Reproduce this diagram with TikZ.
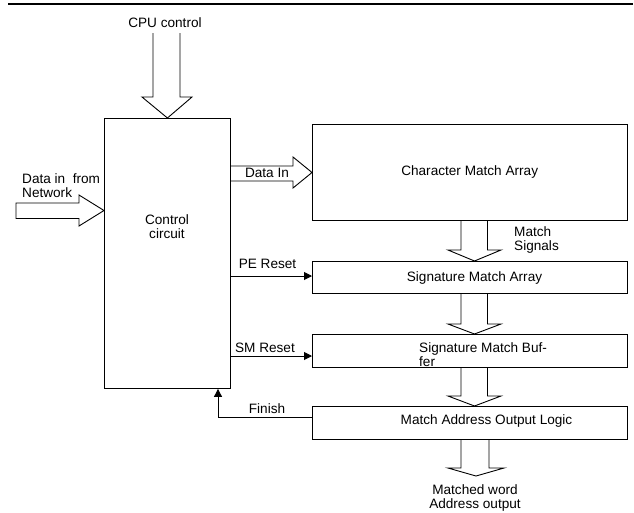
\documentclass[tikz,border=0pt]{standalone}
\usepackage{fontspec}
\setmainfont{Liberation Sans}
\usetikzlibrary{arrows.meta,calc}
\begin{document}
\begin{tikzpicture}[x=1pt,y=-1pt,
  box/.style={draw,line width=0.9pt,inner sep=0pt,anchor=north west},
  blk/.style={draw,line width=0.9pt,line join=miter},
  sig/.style={line width=0.9pt,-{Triangle[length=8pt,width=8pt]}},
  lbl/.style={inner sep=0pt,font=\fontsize{13.6}{14}\selectfont},
  every node/.style={font=\fontsize{13.6}{14}\selectfont}]
\useasboundingbox (0,0) rectangle (634,512);
\draw[line width=2pt] (8,4) -- (633,4);
% boxes
\node[box,minimum width=126pt,minimum height=270pt] (ctrl) at (104,118) {};
\node[box,minimum width=315pt,minimum height=96pt] (cma) at (312,124) {};
\node[box,minimum width=315pt,minimum height=32pt] (sma) at (312,261) {};
\node[box,minimum width=315pt,minimum height=33pt] (smb) at (312,334) {};
\node[box,minimum width=315pt,minimum height=33pt] (maol) at (312,406) {};
% box texts
\node[lbl,anchor=base] (t1) at (167,224) {Control};
\node[lbl,anchor=base] (t2) at (167,238) {circuit};
\node[lbl,anchor=base] (t3) at (469.7,175.6) {Character Match Array};
\node[lbl,anchor=base] (t4) at (474.5,281) {Signature Match Array};
\node[lbl,anchor=base west] (t5) at (419,352.5) {Signature Match Buf-};
\node[lbl,anchor=base west] (t6) at (419,366.5) {fer};
\node[lbl,anchor=base] (t7) at (486.5,424) {Match Address Output Logic};
% CPU control
\node[lbl,anchor=base] (cpu) at (165,27.5) {CPU control};
\draw[blk] (153,33) -- (153,97) -- (142,97) -- (ctrl.north) -- (192,97) -- (180,97) -- (180,33);
% Data in from network
\node[lbl,anchor=base west] (din1) at (22,183) {Data in\ \ from};
\node[lbl,anchor=base west] (din2) at (22,197) {Network};
\draw[blk] (16,203) -- (79,203) -- (79,195) -- (ctrl.west |- 0,210.5) -- (79,226) -- (79,218.5) -- (16,218.5) -- cycle;
% Data In
\draw[blk] (ctrl.east |- 0,166) -- (293,166) -- (293,157) -- (cma.west |- 0,172.5) -- (293,188) -- (293,181) -- (ctrl.east |- 0,181);
\node[lbl,anchor=base] (dinl) at (267,177) {Data In};
% vertical block arrows
\draw[blk] (461,220) -- (461,250) -- (448,250) -- (474.5,261) -- (501,250) -- (487.5,250) -- (487.5,220);
\node[lbl,anchor=base west] (ms1) at (514,236.5) {Match};
\node[lbl,anchor=base west] (ms2) at (514,250.5) {Signals};
\draw[blk] (461,293) -- (461,324) -- (448,324) -- (474.5,334) -- (501,324) -- (487.5,324) -- (487.5,293);
\draw[blk] (461,367) -- (461,396) -- (448,396) -- (474.5,406) -- (501,396) -- (487.5,396) -- (487.5,367);
\draw[blk] (461,439) -- (461,468) -- (448,468) -- (476,476) -- (504,468) -- (489,468) -- (489,439);
\node[lbl,anchor=base] (o1) at (475,494) {Matched word};
\node[lbl,anchor=base] (o2) at (475,508) {Address output};
% control signals
\coordinate (pe) at (sma.west |- 0,276);
\draw[sig] (ctrl.east |- pe) -- (pe);
\node[lbl,anchor=base] (pel) at (267.5,268) {PE Reset};
\coordinate (sm) at (smb.west |- 0,356);
\draw[sig] (ctrl.east |- sm) -- (sm);
\node[lbl,anchor=base] (sml) at (265,352) {SM Reset};
\coordinate (fin) at (maol.west |- 0,417);
\coordinate (finup) at (ctrl.south -| 218,0);
\draw[sig] (fin) -| (finup);
\node[lbl,anchor=base] (finl) at (267,413) {Finish};
\end{tikzpicture}
\end{document}
